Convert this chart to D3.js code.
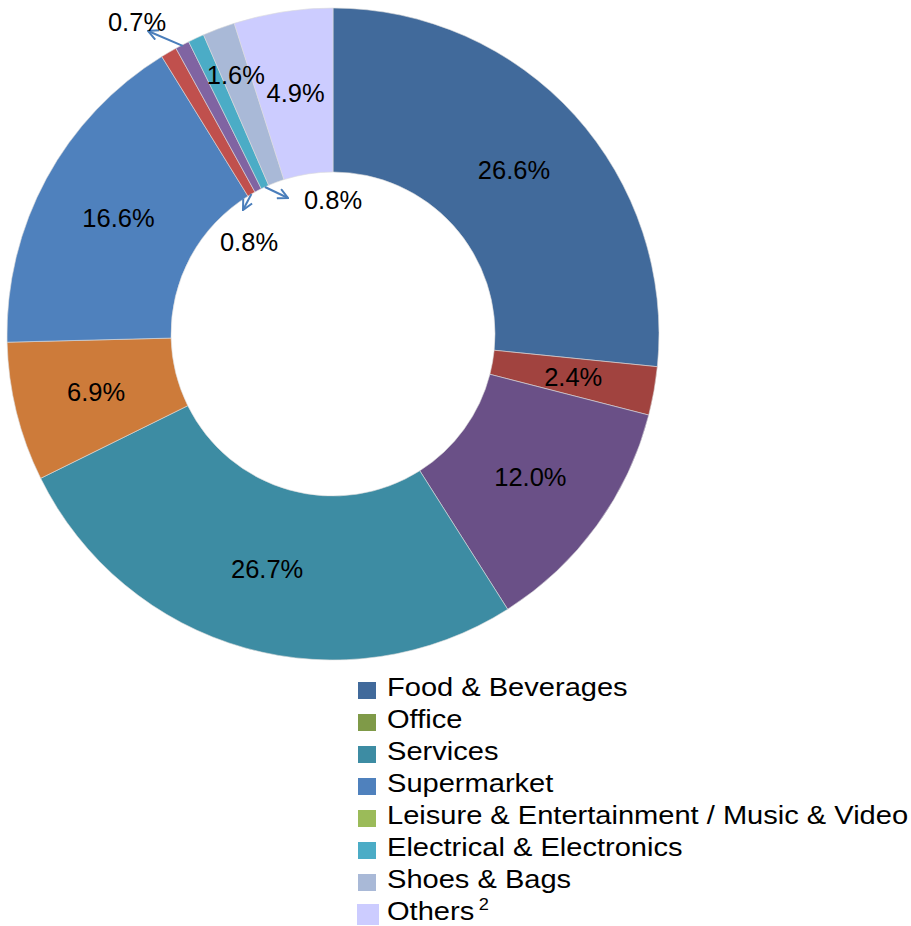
<!DOCTYPE html>
<html>
<head>
<meta charset="utf-8">
<script src="https://cdn.jsdelivr.net/npm/d3@7"></script>
<style>
  html, body { margin: 0; padding: 0; background: #fff; }
  svg { display: block; font-family: "Liberation Sans", Arial, sans-serif; }
</style>
</head>
<body>
<svg id="chart" width="911" height="926"></svg>
<script>
// Share of retail floor space by trade category (%), clockwise from 12 o'clock
const sliceKeys   = ["food", "s2", "s3", "services", "s5", "supermarket", "s7", "s8", "electrical", "shoes", "others"];
const sliceValues = [26.6, 2.4, 12.0, 26.7, 6.9, 16.6, 0.8, 0.7, 0.8, 1.6, 4.9];
const sliceColors = ["#416A9B", "#A1433F", "#6A5087", "#3D8CA3", "#CD7B3A", "#4F81BD",
                     "#C0504D", "#8064A2", "#4BACC6", "#A9B9D7", "#CCCCFF"];

// Legend entries
const legendNames  = ["Food & Beverages", "Office", "Services", "Supermarket",
                      "Leisure & Entertainment / Music & Video", "Electrical & Electronics",
                      "Shoes & Bags", "Others"];
const legendColors = ["#416A9B", "#7F9A48", "#3D8CA3", "#4F81BD", "#9BBB59", "#4BACC6", "#A9B9D7", "#CCCCFF"];

const svg = d3.select("#chart");
const cx = 333, cy = 334, rOuter = 326, rInner = 162;

const pie = d3.pie().sort(null).value(d => d.value);
const arcs = pie(sliceValues.map((v, i) => ({ key: sliceKeys[i], value: v, color: sliceColors[i] })));
const arc = d3.arc().innerRadius(rInner).outerRadius(rOuter);

const g = svg.append("g").attr("transform", `translate(${cx},${cy})`);

g.selectAll("path.slice")
  .data(arcs)
  .enter().append("path")
  .attr("class", "slice")
  .attr("d", arc)
  .attr("fill", d => d.data.color)
  .attr("stroke", "#dcdcdc")
  .attr("stroke-width", 0.6);

const fmt = v => v.toFixed(1) + "%";
const mid = d => (d.startAngle + d.endAngle) / 2;
const polar = (a, r) => [r * Math.sin(a), -r * Math.cos(a)];

// Label placement: centroid by default, a few small slices get leader arrows
const labelLayout = {
  9:  { radius: 277 },                                          // shoes
  6:  { from: "inner", tip: [-90, -124], text: [-84, -92] },    // 0.8%
  7:  { from: "outer", tip: [-185, -303], text: [-196, -312] }, // 0.7%
  8:  { from: "inner", tip: [-45, -136], text: [0, -134] }      // 0.8%
};

const defs = svg.append("defs");
defs.append("marker")
  .attr("id", "openArrow")
  .attr("viewBox", "0 0 12 12")
  .attr("refX", 11).attr("refY", 6)
  .attr("markerWidth", 12).attr("markerHeight", 12)
  .attr("markerUnits", "userSpaceOnUse")
  .attr("orient", "auto")
  .append("path")
  .attr("d", "M1,1 L11,6 L1,11")
  .attr("fill", "none")
  .attr("stroke", "#4A7EBB")
  .attr("stroke-width", 2);

arcs.forEach((d, i) => {
  const lay = labelLayout[i];
  let pos;
  if (lay && lay.from) {
    const start = polar(mid(d), lay.from === "inner" ? rInner : rOuter - 1);
    g.append("line")
      .attr("x1", start[0]).attr("y1", start[1])
      .attr("x2", lay.tip[0]).attr("y2", lay.tip[1])
      .attr("stroke", "#4A7EBB")
      .attr("stroke-width", 2)
      .attr("marker-end", "url(#openArrow)");
    pos = lay.text;
  } else if (lay && lay.radius) {
    pos = polar(mid(d), lay.radius);
  } else {
    pos = arc.centroid(d);
  }
  g.append("text")
    .attr("x", pos[0]).attr("y", pos[1])
    .attr("text-anchor", "middle")
    .attr("dominant-baseline", "central")
    .attr("font-size", 25.5)
    .attr("fill", "#000")
    .text(fmt(d.data.value));
});

// Legend
const legend = svg.append("g").attr("transform", "translate(358,690)");
const row = 32;
const items = legend.selectAll("g.item")
  .data(legendNames.map((n, i) => ({ name: n, color: legendColors[i], last: i === legendNames.length - 1 })))
  .enter().append("g")
  .attr("class", "item")
  .attr("transform", (d, i) => `translate(0,${i * row})`);

items.append("rect")
  .attr("x", d => d.last ? -1 : 0)
  .attr("y", d => d.last ? -10 : -8)
  .attr("width", d => d.last ? 22 : 18)
  .attr("height", d => d.last ? 21 : 17)
  .attr("fill", d => d.color);

const labels = items.append("text")
  .attr("transform", "translate(29,6) scale(1.14,1)")
  .attr("font-size", 25.5)
  .attr("fill", "#000")
  .text(d => d.name);

labels.filter(d => d.last)
  .append("tspan")
  .attr("dx", 4).attr("dy", -10)
  .attr("font-size", 16)
  .text("2");
</script>
</body>
</html>
